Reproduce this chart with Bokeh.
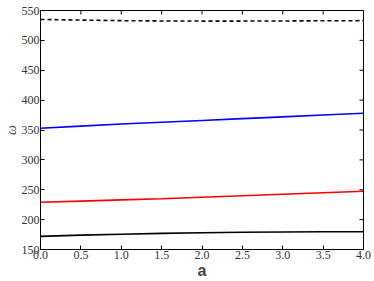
import math
from bokeh.plotting import figure
from bokeh.models import Range1d, FixedTicker, NumeralTickFormatter
from bokeh.embed import file_html
from bokeh.resources import INLINE

a = [0.0, 0.5, 1.0, 1.5, 2.0, 2.5, 3.0, 3.5, 4.0]
mode1 = [172, 174, 175.6, 177, 178, 178.8, 179.3, 179.6, 179.8]
mode2 = [229, 231, 233, 235, 237.5, 240, 242.5, 245, 247.5]
mode3 = [353, 356.5, 360, 363, 366, 369, 372, 375, 378]
mode4 = [535, 534, 533, 532.5, 532.3, 532.3, 532.5, 532.8, 533]
xticks = [0.0, 0.5, 1.0, 1.5, 2.0, 2.5, 3.0, 3.5, 4.0]
yticks = [150, 200, 250, 300, 350, 400, 450, 500, 550]
xmin, xmax, ymin, ymax = 0.0, 4.0, 150, 550

p = figure(width=374, height=281, output_backend="svg", toolbar_location=None,
           x_range=Range1d(xmin, xmax), y_range=Range1d(ymin, ymax),
           min_border_left=0, min_border_right=11, min_border_top=10, min_border_bottom=0)
p.grid.visible = False
p.outline_line_color = "black"

p.line(a, mode1, color="black", line_width=1.6)
p.line(a, mode2, color="red", line_width=1.6)
p.line(a, mode3, color="blue", line_width=1.6)
p.line(a, mode4, color="black", line_width=1.6, line_dash="4 3")

# inward tick marks on the top and right edges of the frame
p.ray(x=xticks, y=[ymax] * len(xticks), length=4, length_units="screen",
      angle=-math.pi / 2, color="black", line_width=1)
p.ray(x=[xmax] * len(yticks), y=yticks, length=4, length_units="screen",
      angle=math.pi, color="black", line_width=1)

for ax in (p.xaxis[0], p.yaxis[0]):
    ax.major_tick_in = 4
    ax.major_tick_out = 0
    ax.minor_tick_in = 0
    ax.minor_tick_out = 0
    ax.major_label_text_font = "Liberation Serif"
    ax.major_label_text_font_size = "12px"
    ax.major_label_text_color = "#333333"
    ax.axis_line_color = "black"
p.xaxis[0].ticker = FixedTicker(ticks=xticks)
p.xaxis[0].formatter = NumeralTickFormatter(format="0.0")
p.yaxis[0].ticker = FixedTicker(ticks=yticks)
p.xaxis[0].major_label_standoff = 1
p.yaxis[0].major_label_standoff = 1
p.xaxis[0].axis_label = "a"
p.xaxis[0].axis_label_text_font = "Liberation Sans"
p.xaxis[0].axis_label_text_font_style = "bold"
p.xaxis[0].axis_label_text_font_size = "16px"
p.xaxis[0].axis_label_standoff = 0
p.yaxis[0].axis_label = "ω"
p.yaxis[0].axis_label_text_font = "Liberation Serif"
p.yaxis[0].axis_label_text_font_style = "italic"
p.yaxis[0].axis_label_text_font_size = "14px"
p.yaxis[0].axis_label_standoff = 0

open("out.html", "w").write(file_html(p, INLINE))
